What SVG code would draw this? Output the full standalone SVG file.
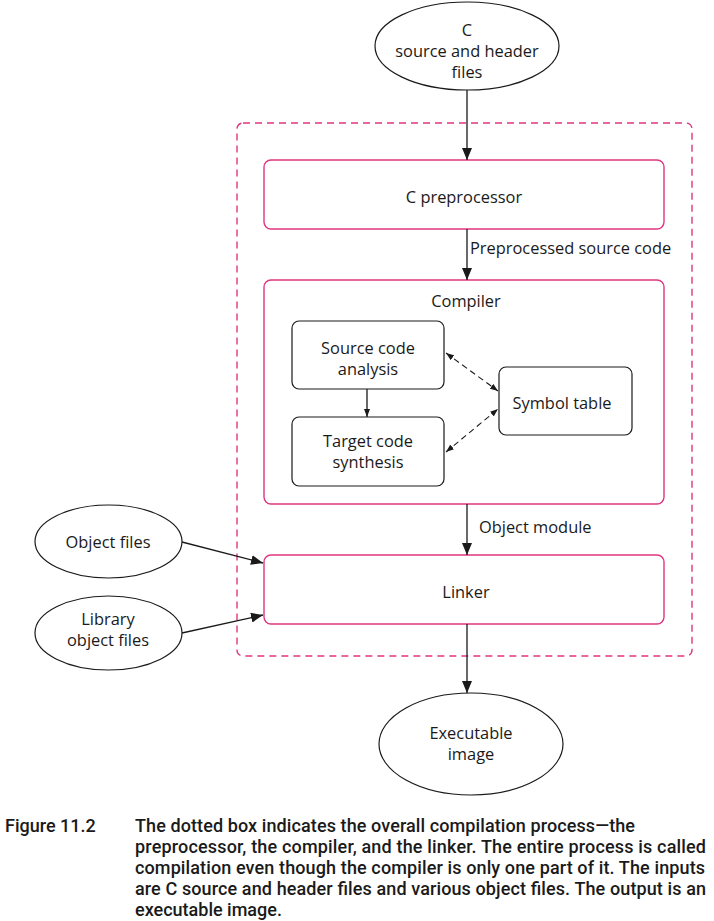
<svg xmlns="http://www.w3.org/2000/svg" width="714" height="921" viewBox="0 0 714 921">
  <style>
    .node { fill: #ffffff; stroke: #1a1a1a; stroke-width: 1.2; }
    .stage { fill: #ffffff; stroke: #e0367f; stroke-width: 1.4; }
    .lbl { font-family: "Open Sans", "Liberation Sans", sans-serif; font-size: 16.4px; fill: #1a1a1a; text-anchor: middle; }
    .elbl { font-family: "Open Sans", "Liberation Sans", sans-serif; font-size: 16.4px; fill: #1a1a1a; }
    .wire { fill: none; stroke: #1a1a1a; stroke-width: 1.3; }
    .dash { fill: none; stroke: #1a1a1a; stroke-width: 1.1; stroke-dasharray: 6 4; }
    .cap { font-family: "Roboto", "Liberation Sans", sans-serif; font-size: 18px; font-weight: 500; fill: #1a1a1a; }
  </style>
  <defs>
    <marker id="arrow" viewBox="0 0 12 10" refX="12" refY="5" markerWidth="12" markerHeight="10" markerUnits="userSpaceOnUse" orient="auto">
      <path d="M0,0 L12,5 L0,10 Z" fill="#1a1a1a"/>
    </marker>
    <marker id="arrowSm" viewBox="0 0 8 6" refX="8" refY="3" markerWidth="8" markerHeight="6" markerUnits="userSpaceOnUse" orient="auto">
      <path d="M0,0 L8,3 L0,6 Z" fill="#1a1a1a"/>
    </marker>
    <marker id="arrowStart" viewBox="0 0 8 6" refX="0" refY="3" markerWidth="8" markerHeight="6" markerUnits="userSpaceOnUse" orient="auto">
      <path d="M8,0 L0,3 L8,6 Z" fill="#1a1a1a"/>
    </marker>
    <marker id="arrowEnd" viewBox="0 0 8 6" refX="8" refY="3" markerWidth="8" markerHeight="6" markerUnits="userSpaceOnUse" orient="auto">
      <path d="M0,0 L8,3 L0,6 Z" fill="#1a1a1a"/>
    </marker>
  </defs>

  <!-- overall compilation boundary -->
  <g id="compilation-process">
    <rect x="237" y="123" width="455" height="533" rx="6" fill="none" stroke="#e0367f" stroke-width="1.4" stroke-dasharray="7 5"/>
  </g>

  <g id="sources">
    <ellipse class="node" cx="467" cy="46" rx="92" ry="44"/>
    <text class="lbl" x="467" y="36">C</text>
    <text class="lbl" x="467" y="57">source and header</text>
    <text class="lbl" x="467" y="78">files</text>
  </g>

  <g id="preprocessor">
    <rect class="stage" x="264" y="160" width="400" height="69" rx="7"/>
    <text class="lbl" x="464" y="203">C preprocessor</text>
  </g>

  <g id="compiler">
    <rect class="stage" x="264" y="280" width="400" height="224" rx="7"/>
    <text class="lbl" x="466" y="307">Compiler</text>
  </g>

  <g id="analysis">
    <rect class="node" x="292" y="321" width="152" height="68" rx="7"/>
    <text class="lbl" x="368" y="354">Source code</text>
    <text class="lbl" x="368" y="375">analysis</text>
  </g>

  <g id="synthesis">
    <rect class="node" x="292" y="417" width="152" height="69" rx="7"/>
    <text class="lbl" x="368" y="447">Target code</text>
    <text class="lbl" x="368" y="468">synthesis</text>
  </g>

  <g id="symbol-table">
    <rect class="node" x="499" y="367" width="133" height="68" rx="7"/>
    <text class="lbl" x="562" y="409">Symbol table</text>
  </g>

  <g id="linker">
    <rect class="stage" x="264" y="555" width="400" height="69" rx="7"/>
    <text class="lbl" x="466" y="598">Linker</text>
  </g>

  <g id="object-files">
    <ellipse class="node" cx="108.5" cy="541.5" rx="73.5" ry="36.5"/>
    <text class="lbl" x="108" y="548">Object files</text>
  </g>

  <g id="library-files">
    <ellipse class="node" cx="108.5" cy="633" rx="73.5" ry="37"/>
    <text class="lbl" x="108" y="625">Library</text>
    <text class="lbl" x="108" y="646">object files</text>
  </g>

  <g id="executable">
    <ellipse class="node" cx="471" cy="744" rx="92" ry="51"/>
    <text class="lbl" x="471" y="739">Executable</text>
    <text class="lbl" x="471" y="760">image</text>
  </g>

  <!-- connectors -->
  <g id="connectors">
    <line class="wire" x1="467" y1="90" x2="467" y2="160" marker-end="url(#arrow)"/>
    <line class="wire" x1="467" y1="229" x2="467" y2="280" marker-end="url(#arrow)"/>
    <text class="elbl" x="470" y="254">Preprocessed source code</text>
    <line class="wire" x1="367" y1="389" x2="367" y2="417" stroke-width="1" marker-end="url(#arrowSm)"/>
    <line class="dash" x1="446" y1="353" x2="498" y2="391" marker-start="url(#arrowStart)" marker-end="url(#arrowEnd)"/>
    <line class="dash" x1="446" y1="452" x2="498" y2="409" marker-start="url(#arrowStart)" marker-end="url(#arrowEnd)"/>
    <line class="wire" x1="467" y1="504" x2="467" y2="555" marker-end="url(#arrow)"/>
    <text class="elbl" x="479" y="533">Object module</text>
    <line class="wire" x1="182" y1="542" x2="263" y2="563" marker-end="url(#arrow)"/>
    <line class="wire" x1="182" y1="633" x2="263" y2="615" marker-end="url(#arrow)"/>
    <line class="wire" x1="467" y1="624" x2="467" y2="693" marker-end="url(#arrow)"/>
  </g>

  <!-- caption -->
  <g id="caption">
    <text class="cap" x="5" y="832">Figure 11.2</text>
    <text class="cap" x="135" y="832" textLength="500" lengthAdjust="spacing">The dotted box indicates the overall compilation process—the</text>
    <text class="cap" x="135" y="853" textLength="571" lengthAdjust="spacing">preprocessor, the compiler, and the linker. The entire process is called</text>
    <text class="cap" x="135" y="874" textLength="570" lengthAdjust="spacing">compilation even though the compiler is only one part of it. The inputs</text>
    <text class="cap" x="135" y="895" textLength="571" lengthAdjust="spacing">are C source and header files and various object files. The output is an</text>
    <text class="cap" x="135" y="916">executable image.</text>
  </g>
</svg>
